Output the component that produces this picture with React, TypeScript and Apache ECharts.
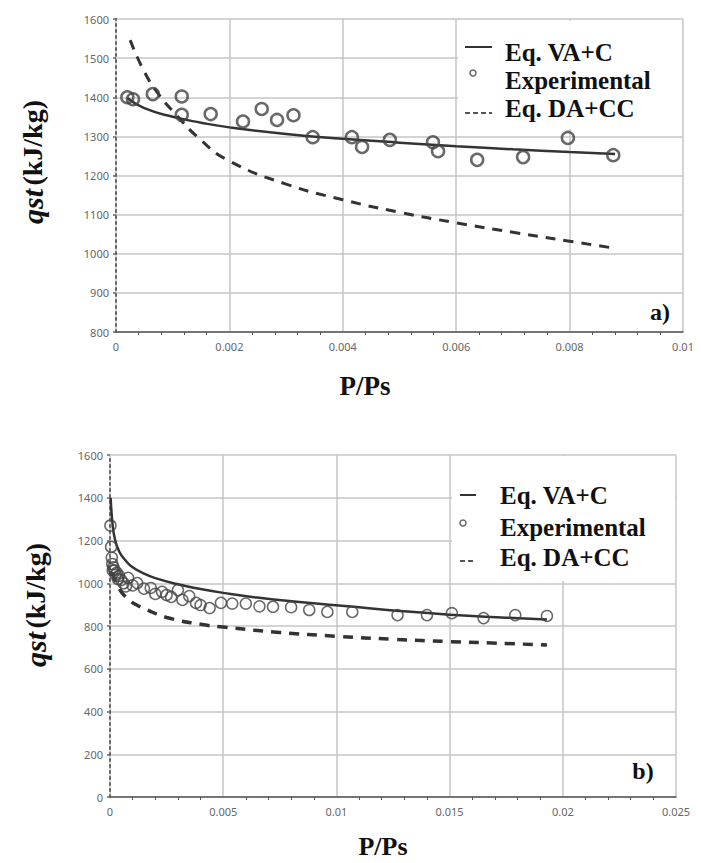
import React, { useEffect, useRef } from "react";
import * as echarts from "echarts";

// ---- chart a) ----
const expA_x = [0.0002, 0.0003, 0.00065, 0.00116, 0.00116, 0.00167, 0.00224, 0.00257, 0.00284, 0.00313, 0.00347, 0.00416, 0.00434, 0.00483, 0.00559, 0.00568, 0.00637, 0.00718, 0.00797, 0.00877];
const expA_y = [1400, 1395, 1408, 1402, 1355, 1357, 1338, 1370, 1342, 1354, 1298, 1298, 1273, 1291, 1285, 1262, 1240, 1247, 1296, 1252];
const vaA_x = [0.0002, 0.0005, 0.001, 0.0015, 0.002, 0.003, 0.004, 0.005, 0.006, 0.007, 0.008, 0.0088];
const vaA_y = [1398, 1372, 1350, 1335, 1323, 1306, 1294, 1284, 1275, 1267, 1260, 1255];
const daA_x = [0.00025, 0.0005, 0.00075, 0.001, 0.0015, 0.002, 0.003, 0.004, 0.005, 0.006, 0.007, 0.008, 0.0088];
const daA_y = [1546, 1465, 1408, 1365, 1290, 1237, 1178, 1138, 1106, 1079, 1055, 1032, 1014];

// ---- chart b) ----
const expB_x = [0.00002, 0.00005, 0.00008, 0.0001, 0.00012, 0.00015, 0.0002, 0.00025, 0.0003, 0.00035, 0.0004, 0.0005, 0.0006, 0.0007, 0.0008, 0.001, 0.0012, 0.0015, 0.0018, 0.002, 0.0023, 0.0025, 0.0027, 0.003, 0.0032, 0.0035, 0.0038, 0.004, 0.0044, 0.0049, 0.0054, 0.006, 0.0066, 0.0072, 0.008, 0.0088, 0.0096, 0.0107, 0.0127, 0.014, 0.0151, 0.0165, 0.0179, 0.0193];
const expB_y = [1270, 1170, 1120, 1090, 1060, 1075, 1060, 1040, 1050, 1020, 1035, 1015, 1000, 985, 1025, 990, 1001, 975, 978, 950, 960, 945, 936, 968, 922, 940, 908, 898, 884, 908, 905, 905, 892, 890, 888, 875, 866, 866, 851, 851, 860, 837, 851, 847];
const vaB_x = [0.00003, 0.0001, 0.0002, 0.0004, 0.0007, 0.001, 0.0015, 0.002, 0.003, 0.004, 0.005, 0.0065, 0.0085, 0.0105, 0.0125, 0.015, 0.0175, 0.0193];
const vaB_y = [1400, 1290, 1215, 1150, 1105, 1075, 1045, 1024, 995, 973, 955, 933, 911, 892, 873, 853, 839, 830];
const daB_x = [0.0001, 0.0004, 0.0008, 0.0012, 0.0016, 0.0025, 0.004, 0.005, 0.0075, 0.01, 0.0125, 0.015, 0.0175, 0.0193];
const daB_y = [1050, 975, 925, 897, 877, 840, 808, 795, 770, 752, 738, 727, 718, 711];

const legendNames = ["Eq. VA+C", "Experimental", "Eq. DA+CC"];
const yTitle = "{i|qst} {n|(kJ/kg)}";
const xTitle = "P/Ps";

const zip = (xs: number[], ys: number[]) => xs.map((x, i) => [x, ys[i]]);

const SERIF = "'Liberation Serif', 'Times New Roman', serif";
const TICKFONT = "'Noto Sans', 'Open Sans', sans-serif";
const fmt = (v: number) => String(parseFloat(v.toFixed(5)));

function makeAxes(idx: number, xmax: number, xint: number, ymin: number, ymax: number, yint: number) {
  const xAxis = {
    type: "value",
    gridIndex: idx,
    min: 0,
    max: xmax,
    interval: xint,
    axisLine: { show: true, onZero: false, lineStyle: { color: "#555", width: 1.5 } },
    axisTick: { show: false },
    minorTick: { show: true, splitNumber: 5, length: 3, lineStyle: { color: "#555", width: 1 } },
    axisLabel: { color: "#666", fontSize: 11, fontFamily: TICKFONT, margin: 9, showMaxLabel: true, formatter: fmt },
    splitLine: { show: true, lineStyle: { color: "#c6c6c6", width: 1.5 } },
  };
  const yAxis = {
    type: "value",
    gridIndex: idx,
    min: ymin,
    max: ymax,
    interval: yint,
    axisLine: { show: true, onZero: false, lineStyle: { color: "#666", width: 2, type: [2, 4] } },
    axisTick: { show: true, length: 3, lineStyle: { color: "#666", width: 1.5 } },
    axisLabel: { color: "#666", fontSize: 11, fontFamily: TICKFONT, margin: 7, formatter: fmt },
    splitLine: { show: true, lineStyle: { color: "#c6c6c6", width: 1.5 } },
  };
  return { xAxis, yAxis };
}

function legend(yLine: number, yCirc: number, yDash: number, iconL: number, iconR: number, circX: number, textX: number, yt: number[], box: number[]) {
  const t = (s: string, y: number) => ({
    type: "text",
    z: 20,
    x: textX,
    y,
    style: { text: s, font: `bold 25px ${SERIF}`, fill: "#111", verticalAlign: "middle", align: "left" },
  });
  return [
    { type: "rect", z: 15, shape: { x: box[0], y: box[1], width: box[2], height: box[3] }, style: { fill: "#fff" } },
    { type: "line", z: 20, shape: { x1: iconL, y1: yLine, x2: iconR, y2: yLine }, style: { stroke: "#333", lineWidth: 2 } },
    { type: "circle", z: 20, shape: { cx: circX, cy: yCirc, r: 3 }, style: { fill: "none", stroke: "#666", lineWidth: 1.5 } },
    { type: "line", z: 20, shape: { x1: iconL, y1: yDash, x2: iconR, y2: yDash }, style: { stroke: "#555", lineWidth: 2, lineDash: [5, 3] } },
    t(legendNames[0], yt[0]),
    t(legendNames[1], yt[1]),
    t(legendNames[2], yt[2]),
  ];
}

export default function App() {
  const ref = useRef<HTMLDivElement>(null);
  useEffect(() => {
    if (!ref.current) return;
    const chart = echarts.init(ref.current, undefined, { renderer: "svg" });
    const a = makeAxes(0, 0.01, 0.002, 800, 1600, 100);
    const b = makeAxes(1, 0.025, 0.005, 0, 1600, 200);
    const lineSeries = (name: string, xi: number, data: number[][], dashed: boolean, w: number) => ({
      name,
      type: "line",
      xAxisIndex: xi,
      yAxisIndex: xi,
      data,
      smooth: 0.5,
      showSymbol: false,
      z: 3,
      lineStyle: { color: "#333", width: w, type: dashed ? [10, 8] : "solid" },
    });
    const scat = (name: string, xi: number, data: number[][], size: number, bw: number) => ({
      name,
      type: "scatter",
      xAxisIndex: xi,
      yAxisIndex: xi,
      data,
      symbol: "circle",
      symbolSize: size,
      z: 4,
      itemStyle: { color: "rgba(255,255,255,0)", borderColor: "#444", borderWidth: bw },
    });
    const rich = {
      i: { fontStyle: "italic", fontWeight: "bold", fontSize: 30, fontFamily: SERIF, fill: "#111" },
      n: { fontWeight: "bold", fontSize: 28, fontFamily: SERIF, fill: "#111" },
    };
    const option = {
      animation: false,
      backgroundColor: "#fff",
      grid: [
        { left: 116, top: 19, width: 567, height: 313 },
        { left: 110, top: 455, width: 566, height: 342 },
      ],
      xAxis: [a.xAxis, b.xAxis],
      yAxis: [a.yAxis, b.yAxis],
      series: [
        lineSeries(legendNames[0], 0, zip(vaA_x, vaA_y), false, 2.5),
        lineSeries(legendNames[2], 0, zip(daA_x, daA_y), true, 3),
        scat(legendNames[1], 0, zip(expA_x, expA_y), 12, 2.5),
        lineSeries(legendNames[0], 1, zip(vaB_x, vaB_y), false, 2.5),
        lineSeries(legendNames[2], 1, zip(daB_x, daB_y), true, 3.5),
        scat(legendNames[1], 1, zip(expB_x, expB_y), 11, 1.5),
      ],
      graphic: [
        ...legend(47, 73, 113, 465, 492, 473, 505, [52, 80, 108], [458, 21, 224, 108]),
        ...legend(495, 523, 561, 460, 476, 463, 500, [495, 527, 557], [452, 456, 223, 125]),
        { type: "text", z: 20, x: 32, y: 162, rotation: Math.PI / 2, style: { text: yTitle, rich, align: "center", verticalAlign: "middle" } },
        { type: "text", z: 20, x: 35, y: 605, rotation: Math.PI / 2, style: { text: yTitle, rich, align: "center", verticalAlign: "middle" } },
        { type: "text", z: 20, x: 365, y: 386, style: { text: xTitle, font: `bold 27px ${SERIF}`, fill: "#111", align: "center", verticalAlign: "middle" } },
        { type: "text", z: 20, x: 383, y: 846, style: { text: xTitle, font: `bold 26px ${SERIF}`, fill: "#111", align: "center", verticalAlign: "middle" } },
        { type: "text", z: 20, x: 660, y: 312, style: { text: "a)", font: `bold 24px ${SERIF}`, fill: "#111", align: "center", verticalAlign: "middle" } },
        { type: "text", z: 20, x: 643, y: 771, style: { text: "b)", font: `bold 24px ${SERIF}`, fill: "#111", align: "center", verticalAlign: "middle" } },
      ],
    };
    chart.setOption(option as any);
    return () => chart.dispose();
  }, []);
  return <div ref={ref} style={{ width: 701, height: 863, position: "absolute", left: 0, top: 0 }} />;
}
